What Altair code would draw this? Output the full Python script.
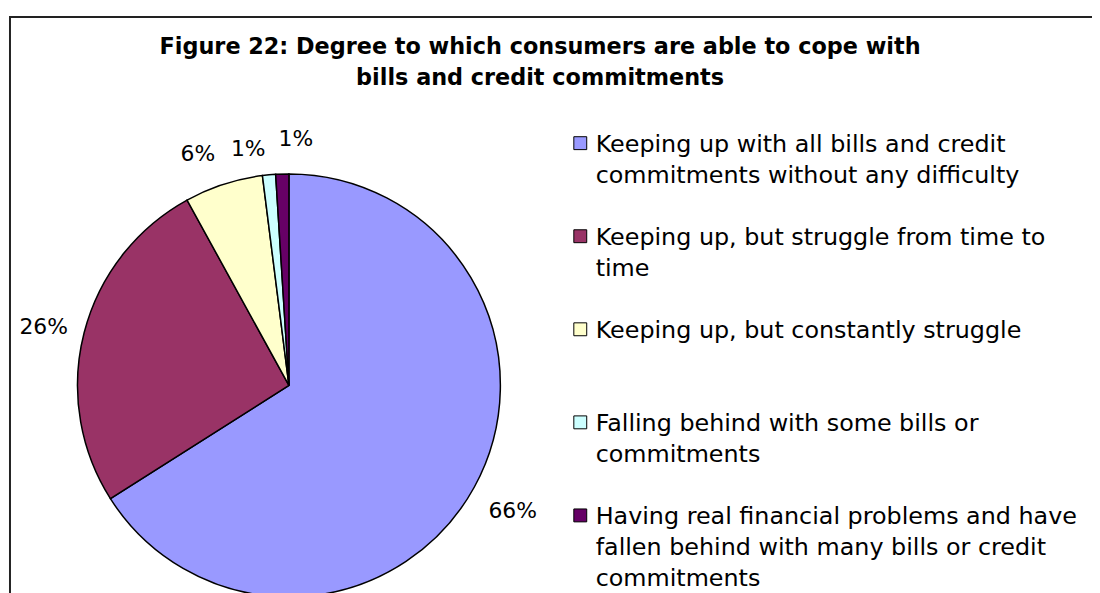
import altair as alt
import pandas as pd

title_lines = [
    "Figure 22: Degree to which consumers are able to cope with",
    "bills and credit commitments",
]
categories = [
    "Keeping up with all bills and credit commitments without any difficulty",
    "Keeping up, but struggle from time to time",
    "Keeping up, but constantly struggle",
    "Falling behind with some bills or commitments",
    "Having real financial problems and have fallen behind with many bills or credit commitments",
]
legend_text = [
    "Keeping up with all bills and credit\ncommitments without any difficulty",
    "Keeping up, but struggle from time to\ntime",
    "Keeping up, but constantly struggle",
    "Falling behind with some bills or\ncommitments",
    "Having real financial problems and have\nfallen behind with many bills or credit\ncommitments",
]
shares = [66, 26, 6, 1, 1]
share_labels = ["66%", "26%", "6%", "1%", "1%"]
colors = ["#9999FF", "#993366", "#FFFFCC", "#CCFFFF", "#660066"]

df = pd.DataFrame({
    "cat": categories,
    "legend": legend_text,
    "share": shares,
    "label": share_labels,
    "order": list(range(len(categories))),
})
total = sum(shares)

CX, CY, R = 283, 378, 213
FONT = "DejaVu Sans"

base = alt.Chart(df)
color = alt.Color("cat:N", scale=alt.Scale(domain=categories, range=colors), legend=None)
theta_scale = alt.Scale(domain=[0, total])

frame = alt.Chart(pd.DataFrame({"k": [0]})).mark_rect(
    fill="white", fillOpacity=0, stroke="#222222", strokeWidth=2
).encode(x=alt.value(2), x2=alt.value(1300), y=alt.value(7), y2=alt.value(900))

title = alt.Chart(pd.DataFrame({"t": ["\n".join(title_lines)]})).mark_text(
    align="center", baseline="alphabetic", lineBreak="\n", lineHeight=31,
    font=FONT, fontWeight="bold", fontSize=22.5, color="black"
).encode(text="t:N", x=alt.value(536), y=alt.value(44))

pie = base.mark_arc(outerRadius=R, stroke="black", strokeWidth=1.5).encode(
    theta=alt.Theta("share:Q", stack=True, scale=theta_scale),
    order=alt.Order("order:Q", sort="ascending"),
    color=color,
    x=alt.value(CX), y=alt.value(CY),
)

lab_base = base.transform_window(
    cum="sum(share)", sort=[alt.SortField("order")], frame=[None, 0]
).transform_calculate(mid="datum.cum - datum.share / 2")

offsets = [(2, 4), (0, 5), (-13, 9), (-17, 16), (15, 7)]
labels = []
for i, (ddx, ddy) in enumerate(offsets):
    labels.append(
        lab_base.transform_filter(f"datum.order == {i}").mark_text(
            radius=255, dx=ddx, dy=ddy, font=FONT, fontSize=22, color="black",
            align="center", baseline="middle"
        ).encode(
            theta=alt.Theta("mid:Q", scale=theta_scale),
            text="label:N",
            x=alt.value(CX), y=alt.value(CY),
        )
    )

ly = alt.Y("cat:N", scale=alt.Scale(type="point", domain=categories, range=[134, 509], padding=0), axis=None)

squares = base.mark_square(size=169, opacity=1, stroke="black", strokeWidth=1).encode(
    y=ly, x=alt.value(576.5), color=color
)
leg_text = base.mark_text(
    align="left", baseline="alphabetic", dy=9, lineBreak="\n", lineHeight=31,
    font=FONT, fontSize=24, color="black"
).encode(y=ly, x=alt.value(592), text="legend:N")

chart = alt.layer(frame, title, pie, *labels, squares, leg_text).properties(
    width=1092, height=585, autosize="none", padding=0, background="white"
).configure_view(stroke=None)

chart.save("out.html", embed_options={"renderer": "svg", "actions": False})
